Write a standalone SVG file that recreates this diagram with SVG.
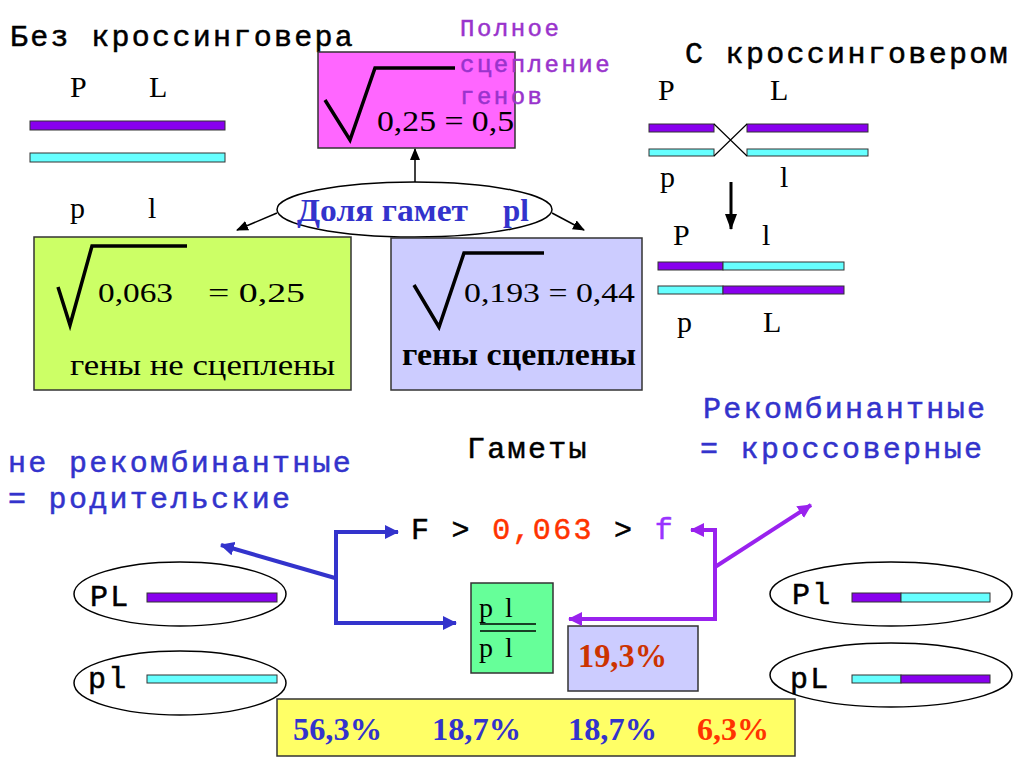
<svg xmlns="http://www.w3.org/2000/svg" width="1024" height="767" viewBox="0 0 1024 767">
<style>
.mono{font-family:"Liberation Mono","DejaVu Sans Mono",monospace;font-size:30px;letter-spacing:2.3px;stroke-width:0.5px}
.mono-s{font-family:"Liberation Mono","DejaVu Sans Mono",monospace;font-size:24px;letter-spacing:2.5px;fill:#9933CC;stroke:#9933CC;stroke-width:0.5px}
.k{fill:#000;stroke:#000}
.serif{font-family:"Liberation Serif","Times New Roman",serif}
.bold{font-weight:bold}
.blue{fill:#3333CC}
.mono.blue{stroke:#3333CC}
.box{stroke:#333;stroke-width:1.5}
.pur{fill:#8800EE;stroke:#333;stroke-width:1}
.cy{fill:#66FFFF;stroke:#333;stroke-width:1}
.rad{fill:none;stroke:#000;stroke-width:3.5;stroke-linejoin:miter}
.thin{fill:none;stroke:#000;stroke-width:1.5}
.bl{fill:none;stroke:#3333CC;stroke-width:4}
.pu{fill:none;stroke:#9922EE;stroke-width:4}
.ell{fill:none;stroke:#000;stroke-width:1.5}
</style>
<defs>
<marker id="ak" markerUnits="userSpaceOnUse" markerWidth="12" markerHeight="10" refX="11" refY="5" orient="auto"><path d="M0,0 L12,5 L0,10 z" fill="#000"/></marker>
<marker id="ab" markerUnits="userSpaceOnUse" markerWidth="14" markerHeight="14" refX="13" refY="7" orient="auto"><path d="M0,0 L14,7 L0,14 z" fill="#3333CC"/></marker>
<marker id="ap" markerUnits="userSpaceOnUse" markerWidth="14" markerHeight="14" refX="13" refY="7" orient="auto"><path d="M0,0 L14,7 L0,14 z" fill="#9922EE"/></marker>
<marker id="akb" markerUnits="userSpaceOnUse" markerWidth="16" markerHeight="16" refX="15" refY="8" orient="auto"><path d="M0,2 L16,8 L0,14 z" fill="#000"/></marker>
</defs>
<rect width="1024" height="767" fill="#fff"/>

<g id="left-chromosomes">
<text class="mono k" x="10" y="46">Без кроссинговера</text>
<text class="serif" font-size="30" x="70" y="97">P</text>
<text class="serif" font-size="30" x="149" y="97">L</text>
<rect class="pur" x="30" y="121" width="195" height="9"/>
<rect class="cy" x="30" y="153" width="195" height="9"/>
<text class="serif" font-size="30" x="70" y="218">p</text>
<text class="serif" font-size="30" x="148" y="218">l</text>
</g>

<g id="full-linkage">
<rect class="box" x="318" y="52" width="197" height="96" fill="#FF66FF"/>
<path class="rad" d="M325,100 L350,140 L375,68 L455,68"/>
<text class="serif" font-size="30" x="377" y="131" textLength="137" lengthAdjust="spacingAndGlyphs">0,25 = 0,5</text>
<text class="mono-s" x="460" y="36">Полное</text>
<text class="mono-s" x="460" y="72">сцепление</text>
<text class="mono-s" x="460" y="104">генов</text>
</g>

<g id="right-chromosomes">
<text class="mono k" x="685" y="63">С кроссинговером</text>
<text class="serif" font-size="30" x="658" y="100">P</text>
<text class="serif" font-size="30" x="770" y="100">L</text>
<rect class="pur" x="649" y="124" width="65" height="8"/>
<rect class="pur" x="747" y="124" width="121" height="8"/>
<rect class="cy" x="649" y="149" width="65" height="7"/>
<rect class="cy" x="747" y="149" width="121" height="7"/>
<path d="M714,124 L747,156 M714,156 L747,124" stroke="#000" stroke-width="1.2" fill="none"/>
<text class="serif" font-size="30" x="660" y="187">p</text>
<text class="serif" font-size="30" x="780" y="187">l</text>
<text class="serif" font-size="30" x="673" y="245">P</text>
<text class="serif" font-size="30" x="762" y="245">l</text>
<rect class="pur" x="658" y="262" width="65" height="8"/>
<rect class="cy" x="723" y="262" width="121" height="8"/>
<rect class="cy" x="658" y="286" width="65" height="8"/>
<rect class="pur" x="723" y="286" width="121" height="8"/>
<text class="serif" font-size="30" x="677" y="332">p</text>
<text class="serif" font-size="30" x="763" y="332">L</text>
</g>

<g id="gamete-share">
<ellipse class="ell" cx="414.5" cy="209.5" rx="137.5" ry="27.5" fill="#fff"/>
<text class="serif bold blue" x="297" y="221" font-size="31" textLength="171" lengthAdjust="spacingAndGlyphs">Доля гамет</text>
<text class="serif bold blue" x="503" y="221" font-size="31">pl</text>
</g>

<g id="not-linked">
<rect class="box" x="34" y="237" width="317" height="153" fill="#CCFF66"/>
<path class="rad" d="M58,287 L70,325 L92,246 L187,246"/>
<text class="serif" x="98" y="302" font-size="28" textLength="75" lengthAdjust="spacingAndGlyphs">0,063</text>
<text class="serif" x="208" y="302" font-size="28" textLength="97" lengthAdjust="spacingAndGlyphs">=  0,25</text>
<text class="serif" x="70" y="375" font-size="30" textLength="265" lengthAdjust="spacingAndGlyphs">гены не сцеплены</text>
</g>

<g id="linked">
<rect class="box" x="391" y="238" width="251" height="152" fill="#CCCCFF"/>
<path class="rad" d="M414,285 L439,327 L464,253 L544,253"/>
<text class="serif" x="464" y="302" font-size="28" textLength="171" lengthAdjust="spacingAndGlyphs">0,193 = 0,44</text>
<text class="serif bold" x="402" y="365" font-size="32" textLength="234" lengthAdjust="spacingAndGlyphs">гены сцеплены</text>
</g>

<g id="labels">
<text class="mono blue" x="703" y="418">Рекомбинантные</text>
<text class="mono blue" x="700" y="458">= кроссоверные</text>
<text class="mono k" x="467" y="458">Гаметы</text>
<text class="mono blue" x="8" y="472">не рекомбинантные</text>
<text class="mono blue" x="8" y="508">= родительские</text>
<text class="mono k" x="411" y="539">F &gt; <tspan fill="#FF3300" stroke="#FF3300">0,063</tspan> &gt; <tspan fill="#9933FF" stroke="#9933FF">f</tspan></text>
</g>

<g id="gamete-PL">
<ellipse class="ell" cx="180" cy="594" rx="106" ry="32"/>
<text class="mono k" x="90" y="606">PL</text>
<rect class="pur" x="147" y="593" width="130" height="9"/>
</g>
<g id="gamete-pl">
<ellipse class="ell" cx="180" cy="683" rx="106" ry="32"/>
<text class="mono k" x="88" y="688">pl</text>
<rect class="cy" x="147" y="675" width="130" height="8"/>
</g>
<g id="gamete-Pl">
<ellipse class="ell" cx="891" cy="594" rx="121" ry="32"/>
<text class="mono k" x="792" y="604">Pl</text>
<rect class="pur" x="852" y="593" width="49" height="9"/>
<rect class="cy" x="901" y="593" width="89" height="9"/>
</g>
<g id="gamete-pL">
<ellipse class="ell" cx="891" cy="675" rx="121" ry="32"/>
<text class="mono k" x="790" y="688">pL</text>
<rect class="cy" x="852" y="675" width="49" height="8"/>
<rect class="pur" x="901" y="675" width="89" height="8"/>
</g>

<g id="homozygote">
<rect class="box" x="471" y="583" width="82" height="90" fill="#66FF99"/>
<text class="serif" x="479" y="617" font-size="28" word-spacing="5">p l</text>
<line x1="480" y1="624" x2="536" y2="624" stroke="#000" stroke-width="1.5"/>
<line x1="480" y1="631" x2="536" y2="631" stroke="#000" stroke-width="1.5"/>
<text class="serif" x="479" y="657" font-size="28" word-spacing="5">p l</text>
</g>

<g id="recomb-percent">
<rect class="box" x="568" y="626" width="130" height="65" fill="#CCCCFF"/>
<text class="serif bold" x="578" y="667" font-size="33" fill="#CC3300" textLength="89" lengthAdjust="spacingAndGlyphs">19,3%</text>
</g>

<g id="percentages">
<rect class="box" x="277" y="699" width="518" height="57" fill="#FFFF66"/>
<text class="serif bold blue" x="293" y="740" font-size="32" textLength="89" lengthAdjust="spacingAndGlyphs">56,3%</text>
<text class="serif bold blue" x="432" y="740" font-size="32" textLength="89" lengthAdjust="spacingAndGlyphs">18,7%</text>
<text class="serif bold blue" x="568" y="740" font-size="32" textLength="89" lengthAdjust="spacingAndGlyphs">18,7%</text>
<text class="serif bold" x="697" y="740" font-size="32" fill="#FF3300" textLength="72" lengthAdjust="spacingAndGlyphs">6,3%</text>
</g>

<g id="connectors">
<path class="thin" d="M415,182 L415,149" marker-end="url(#ak)"/>
<path class="thin" d="M277,213 L237,230" marker-end="url(#ak)"/>
<path class="thin" d="M552,213 L584,230" marker-end="url(#ak)"/>
<path d="M731,182 L731,229" stroke="#000" stroke-width="3" fill="none" marker-end="url(#akb)"/>
<path class="bl" d="M336,532 L398,532" marker-end="url(#ab)"/>
<path class="bl" d="M336,530 L336,623 L456,623" marker-end="url(#ab)"/>
<path class="bl" d="M335,578 L221,545" marker-end="url(#ab)"/>
<path class="pu" d="M715,621 L715,530 L691,530" marker-end="url(#ap)"/>
<path class="pu" d="M715,619 L569,619" marker-end="url(#ap)"/>
<path class="pu" d="M715,567 L811,505" marker-end="url(#ap)"/>
</g>
</svg>
